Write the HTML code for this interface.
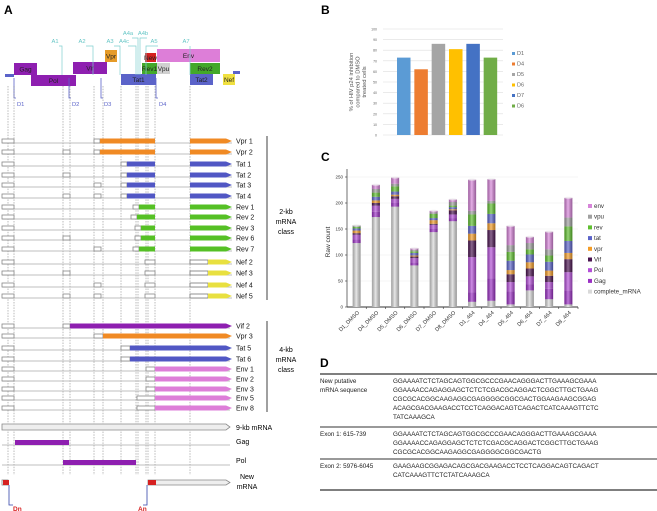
<!DOCTYPE html>
<html><head><meta charset="utf-8"><style>
body{margin:0;background:#fff;font-family:"Liberation Sans",sans-serif}
svg{display:block}
</style></head><body>
<svg width="657" height="511" viewBox="0 0 657 511" xmlns="http://www.w3.org/2000/svg" font-family="Liberation Sans, sans-serif">
<defs>
<linearGradient id="cyl" x1="0" x2="1" y1="0" y2="0"><stop offset="0" stop-color="#000" stop-opacity="0.25"/><stop offset="0.45" stop-color="#fff" stop-opacity="0.35"/><stop offset="1" stop-color="#000" stop-opacity="0.3"/></linearGradient>
</defs>
<g id="panelA"></g>
<g id="panelB"></g>
<g id="panelC"></g>
<g id="panelD">
<text x="320" y="367" font-size="12" font-weight="bold">D</text>
<line x1="320" x2="657" y1="374" y2="374" stroke="#333" stroke-width="1.2"/>
<line x1="320" x2="657" y1="427" y2="427" stroke="#333" stroke-width="1"/>
<line x1="320" x2="657" y1="459" y2="459" stroke="#333" stroke-width="1"/>
<line x1="320" x2="657" y1="490" y2="490" stroke="#333" stroke-width="1.2"/>
<g font-size="6.3" fill="#222">
<text x="320" y="383">New putative</text>
<text x="320" y="392">mRNA sequence</text>
<text x="393" y="383">GGAAAATCTCTAGCAGTGGCGCCCGAACAGGGACTTGAAAGCGAAA</text>
<text x="393" y="392">GGAAAACCAGAGGAGCTCTCTCGACGCAGGACTCGGCTTGCTGAAG</text>
<text x="393" y="401">CGCGCACGGCAAGAGGCGAGGGGCGGCGACTGGAAGAAGCGGAG</text>
<text x="393" y="410">ACAGCGACGAAGACCTCCTCAGGACAGTCAGACTCATCAAAGTTCTC</text>
<text x="393" y="419">TATCAAAGCA</text>
<text x="320" y="436">Exon 1: 615-739</text>
<text x="393" y="436">GGAAAATCTCTAGCAGTGGCGCCCGAACAGGGACTTGAAAGCGAAA</text>
<text x="393" y="445">GGAAAACCAGAGGAGCTCTCTCGACGCAGGACTCGGCTTGCTGAAG</text>
<text x="393" y="454">CGCGCACGGCAAGAGGCGAGGGGCGGCGACTG</text>
<text x="320" y="468">Exon 2: 5976-6045</text>
<text x="393" y="468">GAAGAAGCGGAGACAGCGACGAAGACCTCCTCAGGACAGTCAGACT</text>
<text x="393" y="477">CATCAAAGTTCTCTATCAAAGCA</text>
</g>
</g>
</svg>
<script>
const NS='http://www.w3.org/2000/svg';
function mk(parent,tag,attrs,text){const e=document.createElementNS(NS,tag);for(const k in attrs)e.setAttribute(k,attrs[k]);if(text!==undefined)e.textContent=text;parent.appendChild(e);return e;}

// ---------- Panel B data ----------
const bCategories=['D1','D4','D5','D6','D7','D6'];
const bValues=[73,62,86,81,86,73];
const bColors=['#5b9bd5','#ed7d31','#a5a5a5','#ffc000','#4472c4','#70ad47'];
const bTicks=[0,10,20,30,40,50,60,70,80,90,100];

// ---------- Panel C data ----------
const cCategories=['D1_DMSO','D4_DMSO','D5_DMSO','D6_DMSO','D7_DMSO','D8_DMSO','D1_464','D4_464','D5_464','D6_464','D7_464','D8_464'];
const cSeriesNames=['complete_mRNA','Gag','Pol','Vif','vpr','tat','rev','vpu','env'];
const cComplete=[123,173,193,80,144,165,10,12,5,32,15,5];
const cGag=[7,10,7,6,6,6,18,43,25,12,20,27];
const cPol=[9,12,8,8,8,7,68,60,18,15,13,35];
const cVif=[3,5,5,3,2,8,32,33,15,15,12,25];
const cVpr=[5,5,3,2,7,2,13,13,8,12,10,12];
const cTat=[4,7,6,5,4,4,15,18,18,15,17,23];
const cRev=[3,8,10,3,8,3,22,20,17,10,12,28];
const cVpu=[3,7,5,3,3,7,7,5,13,12,12,17];
const cEnv=[0,8,12,3,3,5,60,42,37,12,34,38];
const cTicks=[0,50,100,150,200,250];
const cColors=['#d9d9d9','#9b30c4','#b44fd8','#4a1450','#f39c27','#5b63c9','#5fbf2f','#a0a0a0','#d784d9'];

// ---------- Panel B ----------
(function(){
 const g=document.getElementById('panelB');
 mk(g,'text',{x:321,y:14,'font-size':12,'font-weight':'bold'},'B');
 const x0=383,x1=503,y0=135,y1=29;
 const ys=v=>y0-(v/100)*(y0-y1);
 bTicks.forEach(t=>{
  const l=mk(g,'line',{x1:x0,x2:x1,y1:ys(t),y2:ys(t),stroke:'#ddd','stroke-width':0.6});
  
  
  mk(g,'text',{x:x0-6,y:ys(t)+1.5,'font-size':3.5,fill:'#666','text-anchor':'end'},t);
 });
 const step=(x1-x0-16)/bValues.length;
 bValues.forEach((v,i)=>{
  const r=mk(g,'rect',{x:x0+14+i*step,y:ys(v),width:step*0.78,height:y0-ys(v),fill:bColors[i]});
  
  
  const ly=55+i*10.5;
  const sw=mk(g,'rect',{x:512,y:ly-3,width:3,height:3,fill:bColors[i]});
  
  
  const lt=mk(g,'text',{x:517,y:ly,'font-size':5.5,fill:'#666'},bCategories[i]);
  
  
 });
 const yl=mk(g,'text',{transform:'translate(353,82) rotate(-90)','font-size':5.8,fill:'#555','text-anchor':'middle'});
 
 
 ['% of HIV p24 inhibition','compared to DMSO','treated cells'].forEach((s,i)=>mk(yl,'tspan',{x:0,dy:i?6.5:0},s));
})();

// ---------- Panel C ----------
(function(){
 const g=document.getElementById('panelC');
 mk(g,'text',{x:321,y:161,'font-size':12,'font-weight':'bold'},'C');
 const x0=347,x1=578,y0=307,y1=177;
 const ys=v=>y0-(v/250)*(y0-y1);
 cTicks.forEach(t=>{
  if(t>0){const l=mk(g,'line',{x1:x0,x2:x1,y1:ys(t),y2:ys(t),stroke:'#eee','stroke-width':0.6});
  
  }
  mk(g,'text',{x:x0-4,y:ys(t)+1.5,'font-size':4.5,fill:'#333','text-anchor':'end'},t);
  mk(g,'line',{x1:x0-2,x2:x0,y1:ys(t),y2:ys(t),stroke:'#333','stroke-width':0.6});
 });
 mk(g,'line',{x1:x0,x2:x0,y1:y0,y2:y1-8,stroke:'#333','stroke-width':0.7});
 mk(g,'line',{x1:x0,x2:x1,y1:y0,y2:y0,stroke:'#333','stroke-width':0.9});
 const yt=mk(g,'text',{transform:'translate(330,242) rotate(-90)','font-size':6.5,fill:'#333','text-anchor':'middle'},'Raw count');
 
 
 const series=[cComplete,cGag,cPol,cVif,cVpr,cTat,cRev,cVpu,cEnv];
 const step=(x1-x0)/cCategories.length;
 cCategories.forEach((c,i)=>{
  const cx=x0+step*(i+0.5);
  mk(g,'line',{x1:x0+step*(i+1),x2:x0+step*(i+1),y1:y0,y2:y0+2,stroke:'#333','stroke-width':0.6});
  let acc=0;
  series.forEach((s,k)=>{
   const v=s[i]; if(v<=0)return;
   const r=mk(g,'rect',{x:cx-4,y:ys(acc+v),width:8,height:ys(acc)-ys(acc+v),fill:cColors[k]});
   
   
   acc+=v;
  });
  mk(g,'rect',{x:cx-4,y:ys(acc),width:8,height:y0-ys(acc),fill:'url(#cyl)'});
  mk(g,'ellipse',{cx:cx,cy:ys(acc),rx:4,ry:1.2,fill:'#eee',opacity:0.6});
  const xl=mk(g,'text',{transform:`translate(${cx+3},${y0+6}) rotate(-45)`,'font-size':5.5,fill:'#333','text-anchor':'end'},c);
  
  
 });
 const order=[8,7,6,5,4,3,2,1,0];
 order.forEach((k,j)=>{
  const ly=208+j*10.7;
  const sw=mk(g,'rect',{x:588,y:ly-4,width:4,height:4,fill:cColors[k]});
  
  
  const lt=mk(g,'text',{x:594,y:ly,'font-size':6.2,fill:'#333'},cSeriesNames[k]);
  
  
 });
})();

// ---------- Panel A ----------
(function(){
 const g=document.getElementById('panelA');
 mk(g,'text',{x:4,y:14,'font-size':12,'font-weight':'bold'},'A');
 // header genome boxes
 const boxes=[['Gag',14,63,23,12,'#8e1fb0','#222'],['Pol',31,75,45,11,'#8e1fb0','#222'],['Vif',73,62,34,12,'#8e1fb0','#222'],['Vpr',105,50,12,12,'#e59b28','#222'],
  ['Tat1',121,74,35,11,'#5b63c9','#222'],['New',145,53,11,9,'#d62020','#222'],['Rev1',142,63,15,11,'#43a82a','#222'],['Vpu',157,63,13,11,'#d0d0d0','#222'],
  ['Env',157,49,63,13,'#dd7ed8','#222'],['Rev2',190,63,30,11,'#43a82a','#222'],['Tat2',190,74,23,11,'#5b63c9','#222'],['Nef',223,74,12,11,'#f0e040','#222']];
 boxes.forEach(b=>{
  const r=mk(g,'rect',{x:b[1],y:b[2],width:b[3],height:b[4],fill:b[5]});
  
  
  mk(g,'text',{x:b[1]+b[3]/2,y:b[2]+b[4]/2+2.3,'font-size':6.5,fill:b[6],'text-anchor':'middle'},b[0]);
 });
 mk(g,'rect',{x:5,y:74,width:9,height:3,fill:'#5b63c9'});
 mk(g,'rect',{x:233,y:71,width:7,height:3,fill:'#5b63c9'});
 // acceptor labels
 const acc=[['A1',55,43,62],['A2',82,43,93],['A3',110,43,120],['A4c',124,43,136],['A4a',128,35,138],['A4b',143,35,140],['A5',154,43,146],['A7',186,43,190]];
 acc.forEach(a=>{
  mk(g,'text',{x:a[1],y:a[2],'font-size':5.8,fill:'#66c6c6','text-anchor':'middle'},a[0]);
  mk(g,'polyline',{points:`${a[1]+4},${a[2]+3} ${a[3]},${a[2]+3} ${a[3]},75`,fill:'none',stroke:'#7fcfcf','stroke-width':0.7});
 });
 const don=[['D1',16,88],['D2',71,88],['D3',103,88],['D4',158,88]];
 don.forEach(d=>{
  mk(g,'polyline',{points:`${d[1]-2},${d[2]-10} ${d[1]-2},${d[2]+10} ${d[1]},${d[2]+10}`,fill:'none',stroke:'#5b63c9','stroke-width':0.8});
  mk(g,'text',{x:d[1]+1,y:d[2]+18,'font-size':5.8,fill:'#5b63c9'},d[0]);
 });
 // dashed verticals
 [8,14,63,70,94,103,121,136,138,146,148,155,190].forEach(x=>mk(g,'line',{x1:x,x2:x,y1:86,y2:475,stroke:'#777','stroke-width':0.5,'stroke-dasharray':'1.5,1.2'}));
 // transcripts
 const rows=[
  ['Vpr 1',141,'#f08a24',100,[]],['Vpr 2',152,'#f08a24',100,[63]],
  ['Tat 1',164,'#5157c4',127,[]],['Tat 2',175,'#5157c4',127,[63]],['Tat 3',185,'#5157c4',127,[94]],['Tat 4',196,'#5157c4',127,[63,94]],
  ['Rev 1',207,'#55c025',139,[]],['Rev 2',217,'#55c025',137,[]],['Rev 3',228,'#55c025',141,[]],['Rev 6',238,'#55c025',141,[63]],['Rev 7',249,'#55c025',139,[94]],
  ['Nef 2',262,'#e8e040',null,[]],['Nef 3',273,'#e8e040',null,[63]],['Nef 4',285,'#e8e040',null,[94]],['Nef 5',296,'#e8e040',null,[63,94]]];
 rows.forEach(r=>{
  const y=r[1];
  mk(g,'line',{x1:2,x2:232,y1:y+2,y2:y+2,stroke:'#aaa','stroke-width':0.7});
  mk(g,'rect',{x:2,y:y-2,width:12,height:4,fill:'#fff',stroke:'#888','stroke-width':0.8});
  r[4].forEach(x=>mk(g,'rect',{x:x,y:y-2,width:7,height:4,fill:'#fff',stroke:'#888','stroke-width':0.8}));
  if(r[3]!==null){
   mk(g,'rect',{x:r[3]-6,y:y-2,width:6,height:4,fill:'#fff',stroke:'#888','stroke-width':0.8});
   mk(g,'rect',{x:r[3],y:y-2.5,width:155-r[3],height:5,fill:r[2]});
   mk(g,'polygon',{points:`190,${y-2.5} 226,${y-2.5} 232,${y} 226,${y+2.5} 190,${y+2.5}`,fill:r[2]});
  } else {
   mk(g,'rect',{x:145,y:y-2,width:10,height:4,fill:'#fff',stroke:'#888','stroke-width':0.8});
   mk(g,'rect',{x:190,y:y-2,width:18,height:4,fill:'#fff',stroke:'#777','stroke-width':0.8});
   mk(g,'polygon',{points:`208,${y-2.5} 226,${y-2.5} 232,${y} 226,${y+2.5} 208,${y+2.5}`,fill:r[2]});
  }
  const t=mk(g,'text',{x:236,y:y+2.5,'font-size':7,fill:'#111'},r[0]);
  
  
 });
 mk(g,'line',{x1:267,x2:267,y1:136,y2:300,stroke:'#111','stroke-width':0.8});
 [['2-kb',214],['mRNA',224],['class',234]].forEach(s=>mk(g,'text',{x:286,y:s[1],'font-size':7,'text-anchor':'middle'},s[0]));
 const rows4=[['Vif 2',326,'#8e1fb0',70,63],['Vpr 3',336,'#f08a24',103,94],['Tat 5',348,'#5157c4',130,121],['Tat 6',359,'#5157c4',130,121],
  ['Env 1',369,'#dd7ed8',155,146],['Env 2',379,'#dd7ed8',155,146],['Env 3',389,'#dd7ed8',155,146],['Env 5',398,'#dd7ed8',155,137],['Env 8',408,'#dd7ed8',155,137]];
 rows4.forEach(r=>{
  const y=r[1];
  mk(g,'line',{x1:2,x2:230,y1:y+2,y2:y+2,stroke:'#aaa','stroke-width':0.7});
  mk(g,'rect',{x:2,y:y-2,width:12,height:4,fill:'#fff',stroke:'#888','stroke-width':0.8});
  mk(g,'rect',{x:r[4],y:y-2,width:r[3]-r[4],height:4,fill:'#fff',stroke:'#888','stroke-width':0.8});
  mk(g,'polygon',{points:`${r[3]},${y-2.5} 226,${y-2.5} 232,${y} 226,${y+2.5} ${r[3]},${y+2.5}`,fill:r[2]});
  const t=mk(g,'text',{x:236,y:y+2.5,'font-size':7,fill:'#111'},r[0]);
  
  
 });
 mk(g,'line',{x1:267,x2:267,y1:321,y2:412,stroke:'#111','stroke-width':0.8});
 [['4-kb',352],['mRNA',362],['class',372]].forEach(s=>mk(g,'text',{x:286,y:s[1],'font-size':7,'text-anchor':'middle'},s[0]));
 // 9-kb
 mk(g,'polygon',{points:'2,424 226,424 230,427 226,430 2,430',fill:'#eee',stroke:'#888','stroke-width':0.8});
 mk(g,'text',{x:236,y:430,'font-size':7},'9-kb mRNA');
 mk(g,'line',{x1:2,x2:230,y1:445,y2:445,stroke:'#aaa','stroke-width':0.7});
 mk(g,'rect',{x:15,y:440,width:54,height:5,fill:'#8e1fb0'});
 mk(g,'text',{x:236,y:444,'font-size':7},'Gag');
 mk(g,'line',{x1:2,x2:230,y1:465,y2:465,stroke:'#aaa','stroke-width':0.7});
 mk(g,'rect',{x:63,y:460,width:73,height:5,fill:'#8e1fb0'});
 mk(g,'text',{x:236,y:463,'font-size':7},'Pol');
 mk(g,'rect',{x:2,y:480,width:6,height:5,fill:'#fff',stroke:'#888','stroke-width':0.8});
 mk(g,'rect',{x:3,y:480,width:6,height:5,fill:'#d62020'});
 mk(g,'polygon',{points:'148,480 226,480 230,482.5 226,485 148,485',fill:'#eee',stroke:'#888','stroke-width':0.8});
 mk(g,'rect',{x:148,y:480,width:8,height:5,fill:'#d62020'});
 mk(g,'text',{x:247,y:479,'font-size':7,'text-anchor':'middle'},'New');
 mk(g,'text',{x:247,y:489,'font-size':7,'text-anchor':'middle'},'mRNA');
 mk(g,'polyline',{points:'9,485 9,505 13,505',fill:'none',stroke:'#3344aa','stroke-width':0.8});
 mk(g,'polyline',{points:'147,485 147,505 143,505',fill:'none',stroke:'#3344aa','stroke-width':0.8});
 mk(g,'text',{x:13,y:511,'font-size':6.5,fill:'#d62020','font-weight':'bold'},'Dn');
 mk(g,'text',{x:138,y:511,'font-size':6.5,fill:'#d62020','font-weight':'bold'},'An');
})();
</script>
</body></html>
